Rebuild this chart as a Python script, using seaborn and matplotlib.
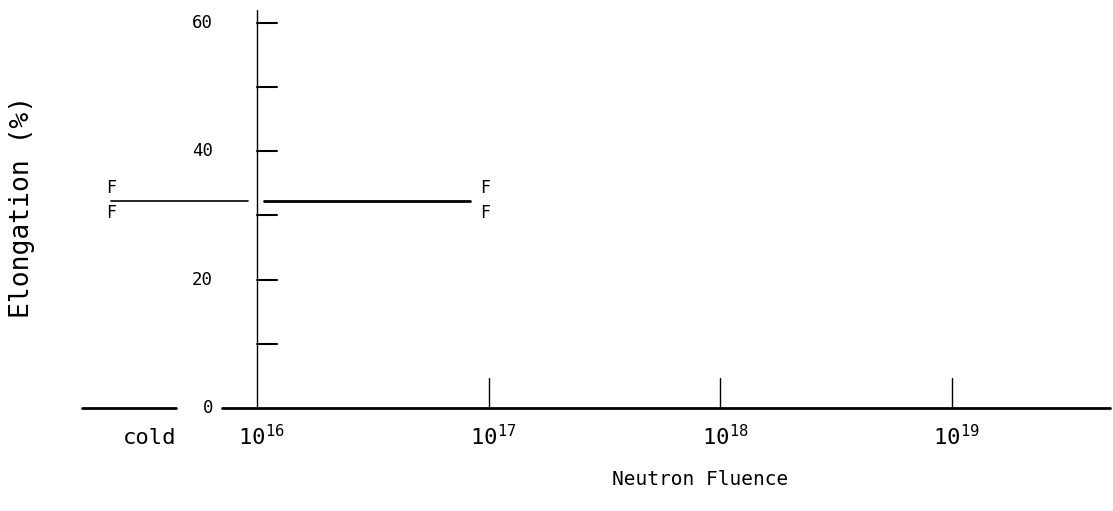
import matplotlib
matplotlib.use('Agg')
import matplotlib.pyplot as plt
import seaborn as sns

# elongation vs neutron fluence (x = log10 of fluence)
decades = [16, 17, 18, 19]
decade_labels = [r'$\mathregular{10^{16}}$', r'$\mathregular{10^{17}}$',
                 r'$\mathregular{10^{18}}$', r'$\mathregular{10^{19}}$']
ytick_major = [0, 20, 40, 60]
ytick_minor = [10, 30, 50]

cold_x = [15.37, 15.96]
cold_elong = [32.2, 32.2]
irr_x = [16.03, 16.92]
irr_elong = [32.2, 32.2]

sns.set_style('white')
plt.rcParams['font.family'] = ['DejaVu Sans Mono']
plt.rcParams['text.color'] = 'black'

fig = plt.figure(figsize=(11.13, 5.11), dpi=100)
ax = fig.add_axes([0, 0, 1, 1])
ax.set_xlim(14.891, 19.694)
ax.set_ylim(-16.04, 63.55)
ax.axis('off')

# axes drawn by hand, like the plotter original
ax.plot([15.849, 19.68], [0, 0], color='black', lw=2)
ax.plot([15.245, 15.65], [0, 0], color='black', lw=2)
ax.plot([16, 16], [0, 62], color='black', lw=1)
for t in ytick_major + ytick_minor:
    if t > 0:
        ax.plot([16, 16.086], [t, t], color='black', lw=1.5)
for d in decades[1:]:
    ax.plot([d, d], [0, 4.7], color='black', lw=1)

# data segments
sns.lineplot(x=cold_x, y=cold_elong, ax=ax, color='black', lw=1.2)
sns.lineplot(x=irr_x, y=irr_elong, ax=ax, color='black', lw=2)
for xf in [cold_x[0], irr_x[1] + 0.065]:
    ax.text(xf, cold_elong[0] + 2.0, 'F', ha='center', va='center', fontsize=12)
    ax.text(xf, cold_elong[0] - 1.8, 'F', ha='center', va='center', fontsize=12)

# tick labels
for t in ytick_major:
    ax.text(15.81, t, str(t), ha='right', va='center', fontsize=12.5)
for d, lab in zip(decades, decade_labels):
    ax.text(d + 0.02, -4.4, lab, ha='center', va='center', fontsize=16)
ax.text(15.538, -4.6, 'cold', ha='center', va='center', fontsize=16)

ax.text(17.912, -11.2, 'Neutron Fluence', ha='center', va='center', fontsize=14)
ax.text(14.985, 31.3, 'Elongation (%)', ha='center', va='center',
        rotation=90, fontsize=19)

plt.savefig('out.png', dpi=100)
plt.close()
